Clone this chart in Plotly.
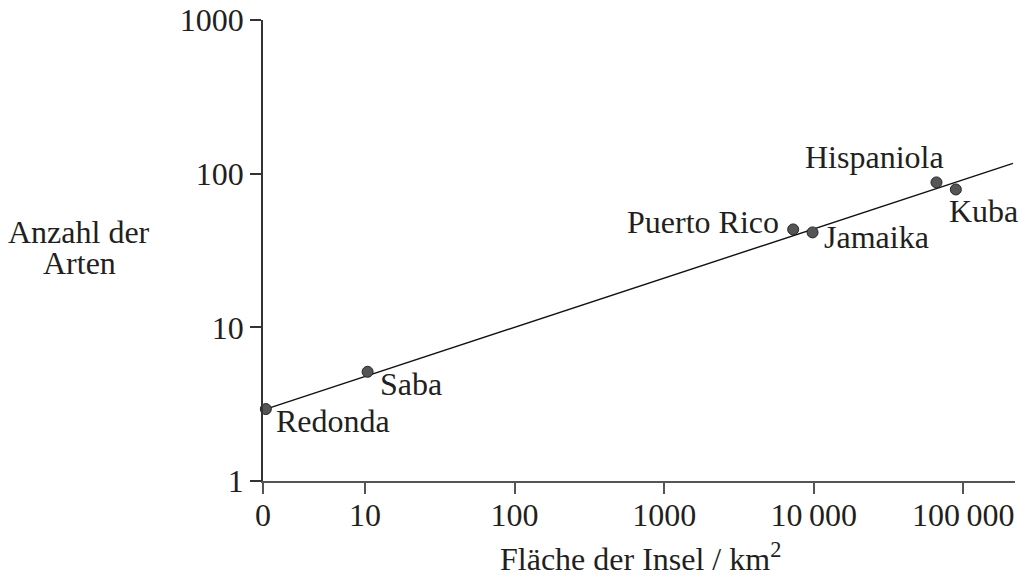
import math
import plotly.graph_objects as go

# Island area (km²) and number of species
islands = ["Redonda", "Saba", "Puerto Rico", "Jamaika", "Hispaniola", "Kuba"]
area_km2 = [2.17, 10.4, 7290, 9820, 66200, 89200]
species = [2.94, 5.14, 43.4, 41.5, 87.8, 79]

# Regression line end points
fit_area = [2.17, 215000]
fit_species = [2.94, 116.7]

# Axis ticks
x_tickvals = [2.08, 10, 100, 1000, 10000, 100000]
x_ticktext = ["0", "10", "100", "1000", "10\u2009000", "100\u2009000"]
y_tickvals = [1, 10, 100, 1000]
y_ticktext = ["1", "10", "100", "1000"]

FONT = "Liberation Serif"
FS = 32
TXT = "#231f20"

W, H = 1022, 576
ML, MR, MT, MB = 263, 7, 20, 95
PW, PH = W - ML - MR, H - MT - MB

# label placement (px) relative to each point: (xshift, yshift, xanchor)
label_pos = {
    "Redonda": (8, -12, "left"),
    "Saba": (10, -12, "left"),
    "Puerto Rico": (-12, 7, "right"),
    "Jamaika": (9, -5, "left"),
    "Hispaniola": (-62, 25, "center"),
    "Kuba": (-9, -22, "left"),
}

fig = go.Figure()

fig.add_trace(go.Scatter(
    x=fit_area, y=fit_species, mode="lines",
    line=dict(color="#111111", width=1.4),
    hoverinfo="skip", cliponaxis=False,
))

fig.add_trace(go.Scatter(
    x=area_km2, y=species, mode="markers",
    marker=dict(size=11, color="#555555", line=dict(color="#222222", width=1)),
    text=islands, cliponaxis=False,
))

for name, xv, yv in zip(islands, area_km2, species):
    dx, dy, xa = label_pos[name]
    fig.add_annotation(
        x=math.log10(xv), y=math.log10(yv), xref="x", yref="y",
        text=name, showarrow=False, xanchor=xa, yanchor="middle",
        xshift=dx, yshift=dy,
        font=dict(family=FONT, size=FS, color=TXT),
    )


def paper_x(px):
    return (px - ML) / PW


def paper_y(py):
    return (H - MB - py) / PH


# axis titles
for text, cx, cy in [("Anzahl der", 79, 232), ("Arten", 79, 263),
                     ("Fläche der Insel / km<sup>2</sup>", 640, 557)]:
    fig.add_annotation(
        x=paper_x(cx), y=paper_y(cy), xref="paper", yref="paper",
        text=text, showarrow=False, xanchor="center", yanchor="middle",
        font=dict(family=FONT, size=FS, color=TXT),
    )

fig.update_layout(
    width=W, height=H,
    margin=dict(l=ML, r=MR, t=MT, b=MB, autoexpand=False),
    paper_bgcolor="white", plot_bgcolor="white",
    showlegend=False,
    font=dict(family=FONT, size=FS, color=TXT),
    xaxis=dict(
        type="log", range=[math.log10(2.08) - 0.0005, 5.346],
        tickmode="array", tickvals=x_tickvals, ticktext=x_ticktext,
        ticks="outside", ticklen=11, tickwidth=1.5, tickcolor="#555555",
        showline=True, linecolor="#555555", linewidth=2,
        showgrid=False, zeroline=False, ticklabelstandoff=-6,
        ticklabeloverflow="allow", automargin=False,
        tickfont=dict(family=FONT, size=FS, color=TXT),
    ),
    yaxis=dict(
        type="log", range=[0, 3.0005],
        tickmode="array", tickvals=y_tickvals, ticktext=y_ticktext,
        ticks="outside", ticklen=11, tickwidth=1.5, tickcolor="#333333",
        showline=True, linecolor="#333333", linewidth=1.5,
        showgrid=False, zeroline=False, ticklabeloverflow="allow",
        automargin=False,
        tickfont=dict(family=FONT, size=FS, color=TXT),
    ),
)

fig.write_html("out.html")
